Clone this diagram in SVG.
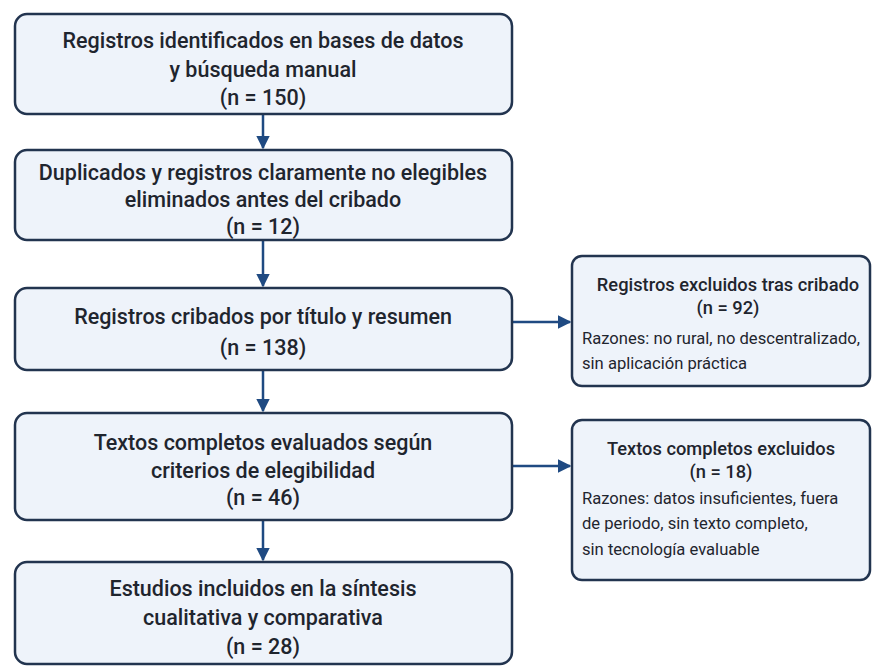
<svg xmlns="http://www.w3.org/2000/svg" width="873" height="666" viewBox="0 0 873 666">
<defs>
<style>
.box{fill:#eef3fa;stroke:#22344f;stroke-width:2.5}
.t{font-family:Roboto,"Liberation Sans",sans-serif;font-size:21.5px;font-weight:500;fill:#1f252e;text-anchor:middle}
.st{font-family:Roboto,"Liberation Sans",sans-serif;font-size:18.3px;font-weight:500;fill:#1f252e;text-anchor:middle}
.s{font-family:Roboto,"Liberation Sans",sans-serif;font-size:16.6px;fill:#1f252e}
.c{stroke:#1f4a82;stroke-width:2.5;fill:none}
</style>
<marker id="ah" viewBox="0 0 10 10" refX="9" refY="5" markerWidth="5.5" markerHeight="6" orient="auto" markerUnits="strokeWidth">
<path d="M0,0 L10,5 L0,10 z" fill="#1f4a82"/>
</marker>
</defs>
<rect width="873" height="666" fill="#ffffff"/>
<g id="connectors">
<line class="c" x1="263" y1="115" x2="263" y2="148" marker-end="url(#ah)"/>
<line class="c" x1="263" y1="241" x2="263" y2="286" marker-end="url(#ah)"/>
<line class="c" x1="263" y1="371" x2="263" y2="411" marker-end="url(#ah)"/>
<line class="c" x1="263" y1="521" x2="263" y2="560" marker-end="url(#ah)"/>
<line class="c" x1="513" y1="322" x2="570" y2="322" marker-end="url(#ah)"/>
<line class="c" x1="513" y1="466" x2="570" y2="466" marker-end="url(#ah)"/>
</g>
<g id="n1">
<rect class="box" x="15" y="14" width="497" height="100" rx="12"/>
<text class="t" x="263" y="48">Registros identificados en bases de datos</text>
<text class="t" x="263" y="77">y búsqueda manual</text>
<text class="t" x="263" y="105">(n = 150)</text>
</g>
<g id="n2">
<rect class="box" x="15" y="150" width="497" height="90" rx="12"/>
<text class="t" x="263" y="180">Duplicados y registros claramente no elegibles</text>
<text class="t" x="263" y="207">eliminados antes del cribado</text>
<text class="t" x="263" y="234">(n = 12)</text>
</g>
<g id="n3">
<rect class="box" x="15" y="288" width="497" height="82" rx="12"/>
<text class="t" x="263" y="324">Registros cribados por título y resumen</text>
<text class="t" x="263" y="355">(n = 138)</text>
</g>
<g id="n4">
<rect class="box" x="15" y="413" width="497" height="107" rx="12"/>
<text class="t" x="263" y="450">Textos completos evaluados según</text>
<text class="t" x="263" y="478">criterios de elegibilidad</text>
<text class="t" x="263" y="505">(n = 46)</text>
</g>
<g id="n5">
<rect class="box" x="15" y="562" width="497" height="102" rx="12"/>
<text class="t" x="263" y="596">Estudios incluidos en la síntesis</text>
<text class="t" x="263" y="625">cualitativa y comparativa</text>
<text class="t" x="263" y="654">(n = 28)</text>
</g>
<g id="r1">
<rect class="box" x="572" y="256" width="298" height="130" rx="10"/>
<text class="st" x="728" y="291">Registros excluidos tras cribado</text>
<text class="st" x="728" y="314">(n = 92)</text>
<text class="s" x="582" y="344">Razones: no rural, no descentralizado,</text>
<text class="s" x="582" y="369">sin aplicación práctica</text>
</g>
<g id="r2">
<rect class="box" x="572" y="420" width="298" height="160" rx="10"/>
<text class="st" x="721" y="455">Textos completos excluidos</text>
<text class="st" x="721" y="478">(n = 18)</text>
<text class="s" x="582" y="504">Razones: datos insuficientes, fuera</text>
<text class="s" x="582" y="529">de periodo, sin texto completo,</text>
<text class="s" x="582" y="555">sin tecnología evaluable</text>
</g>
</svg>
